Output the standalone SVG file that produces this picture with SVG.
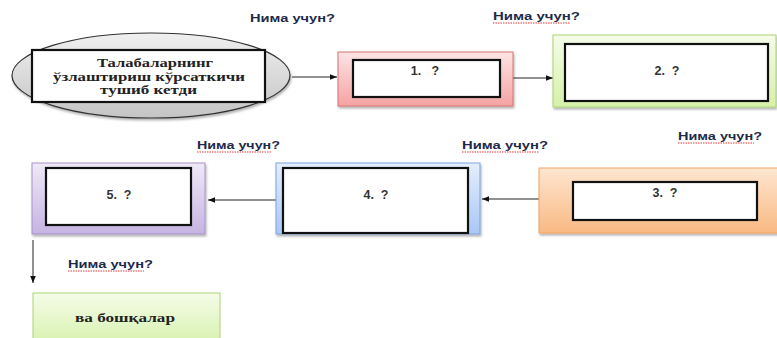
<svg xmlns="http://www.w3.org/2000/svg" width="777" height="338" viewBox="0 0 777 338">
<defs>
<linearGradient id="gRed" x1="0" y1="0" x2="0" y2="1"><stop offset="0" stop-color="#fde4e4"/><stop offset="1" stop-color="#f5a3a3"/></linearGradient>
<linearGradient id="gGreen" x1="0" y1="0" x2="0" y2="1"><stop offset="0" stop-color="#f5fce9"/><stop offset="1" stop-color="#d5f1a9"/></linearGradient>
<linearGradient id="gOrange" x1="0" y1="0" x2="0" y2="1"><stop offset="0" stop-color="#fee6d0"/><stop offset="1" stop-color="#f9b983"/></linearGradient>
<linearGradient id="gBlue" x1="0" y1="0" x2="0" y2="1"><stop offset="0" stop-color="#e4eefd"/><stop offset="1" stop-color="#a9c7f7"/></linearGradient>
<linearGradient id="gPurple" x1="0" y1="0" x2="0" y2="1"><stop offset="0" stop-color="#efe9f7"/><stop offset="1" stop-color="#c6b3e2"/></linearGradient>
<linearGradient id="gGray" x1="0" y1="0" x2="0" y2="1"><stop offset="0" stop-color="#f0f0f0"/><stop offset="1" stop-color="#c4c4c4"/></linearGradient>
<filter id="sh" x="-10%" y="-10%" width="130%" height="140%"><feDropShadow dx="1" dy="2" stdDeviation="1.2" flood-color="#000" flood-opacity="0.3"/></filter>
<marker id="ah" viewBox="0 0 10 10" refX="10" refY="5" markerWidth="7" markerHeight="7" markerUnits="userSpaceOnUse" orient="auto"><path d="M0,1 L10,5 L0,9 z" fill="#111"/></marker>
</defs>
<style>
.lbl{font-family:"Liberation Sans",Arial,sans-serif;font-size:11.5px;font-weight:bold;fill:#1e2a4a}
.num{font-family:"Liberation Sans",Arial,sans-serif;font-size:12.5px;font-weight:bold;fill:#333;text-anchor:middle;white-space:pre}
.ser{font-family:"Liberation Serif","Times New Roman",serif;font-size:12px;font-weight:bold;fill:#222}
.inner{fill:#fff;stroke:#111;stroke-width:2.2}
.conn{stroke:#222;stroke-width:1;fill:none}
.sq{stroke:#e23b3b;stroke-width:1.2;stroke-dasharray:1.5 1;fill:none}
</style>
<rect width="777" height="338" fill="#fff"/>

<g id="labels">
<text class="lbl" x="250" y="22" textLength="85" lengthAdjust="spacingAndGlyphs">Нима учун?</text>
<text class="lbl" x="493" y="20" textLength="87" lengthAdjust="spacingAndGlyphs">Нима учун?</text>
<path class="sq" d="M493,23 H570"/>
<text class="lbl" x="197" y="149" textLength="83" lengthAdjust="spacingAndGlyphs">Нима учун?</text>
<path class="sq" d="M197,152 H272"/>
<text class="lbl" x="462" y="149" textLength="86" lengthAdjust="spacingAndGlyphs">Нима учун?</text>
<path class="sq" d="M462,152 H539"/>
<text class="lbl" x="678" y="140" textLength="84" lengthAdjust="spacingAndGlyphs">Нима учун?</text>
<path class="sq" d="M678,143 H754"/>
<text class="lbl" x="68" y="268" textLength="85" lengthAdjust="spacingAndGlyphs">Нима учун?</text>
<path class="sq" d="M68,271 H144"/>
</g>

<g id="connectors">
<line class="conn" x1="292" y1="77" x2="337" y2="77" marker-end="url(#ah)"/>
<line class="conn" x1="513" y1="78" x2="553" y2="78" marker-end="url(#ah)"/>
<line class="conn" x1="541" y1="199" x2="482" y2="199" marker-end="url(#ah)"/>
<line class="conn" x1="277" y1="200" x2="208" y2="200" marker-end="url(#ah)"/>
<line class="conn" x1="33" y1="240" x2="33" y2="283" marker-end="url(#ah)"/>
</g>

<g id="node-start">
<ellipse cx="151" cy="75.5" rx="139" ry="42.5" fill="url(#gGray)" stroke="#333" stroke-width="1.2" filter="url(#sh)"/>
<rect class="inner" x="32" y="50" width="233" height="52"/>
<text class="ser" x="97" y="67" textLength="116" lengthAdjust="spacingAndGlyphs">Талабаларнинг</text>
<text class="ser" x="53" y="81" textLength="192" lengthAdjust="spacingAndGlyphs">ўзлаштириш кўрсаткичи</text>
<text class="ser" x="100" y="94" textLength="97" lengthAdjust="spacingAndGlyphs">тушиб кетди</text>
</g>

<g id="node-1">
<rect x="338" y="52" width="175" height="54" fill="url(#gRed)" stroke="#d77272" stroke-width="1" filter="url(#sh)"/>
<rect class="inner" x="353" y="60" width="147" height="37"/>
<text class="num" x="425" y="75" xml:space="preserve">1.   ?</text>
</g>

<g id="node-2">
<rect x="553" y="35" width="223" height="72" fill="url(#gGreen)" stroke="#abd275" stroke-width="1" filter="url(#sh)"/>
<rect class="inner" x="565" y="44" width="203" height="57"/>
<text class="num" x="667" y="75" xml:space="preserve">2.  ?</text>
</g>

<g id="node-3">
<rect x="539" y="168" width="250" height="65" fill="url(#gOrange)" stroke="#f3a364" stroke-width="1" filter="url(#sh)"/>
<rect class="inner" x="573" y="182" width="184" height="38"/>
<text class="num" x="665" y="197" xml:space="preserve">3.  ?</text>
</g>

<g id="node-4">
<rect x="276" y="163" width="204" height="71" fill="url(#gBlue)" stroke="#7ea3d9" stroke-width="1" filter="url(#sh)"/>
<rect class="inner" x="283" y="168" width="185" height="65"/>
<text class="num" x="376" y="199" xml:space="preserve">4.  ?</text>
</g>

<g id="node-5">
<rect x="32" y="163" width="173" height="71" fill="url(#gPurple)" stroke="#a792c9" stroke-width="1" filter="url(#sh)"/>
<rect class="inner" x="46" y="168" width="145" height="57"/>
<text class="num" x="119" y="199" xml:space="preserve">5.  ?</text>
</g>

<g id="node-other">
<rect x="33" y="293" width="187" height="55" fill="url(#gGreen)" stroke="#abd275" stroke-width="1"/>
<text class="ser" x="75" y="322" textLength="100" lengthAdjust="spacingAndGlyphs">ва бошқалар</text>
</g>
</svg>
